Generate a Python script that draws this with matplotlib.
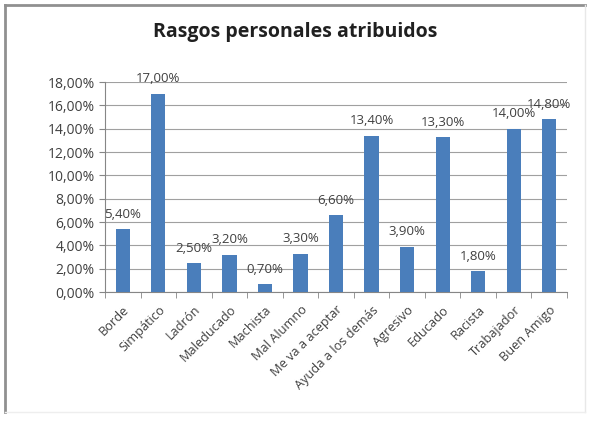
import matplotlib
matplotlib.use("Agg")
from matplotlib import pyplot as plt
from matplotlib.lines import Line2D
import numpy as np

categorias = ["Borde", "Simpático", "Ladrón", "Maleducado", "Machista", "Mal Alumno",
              "Me va a aceptar", "Ayuda a los demás", "Agresivo", "Educado", "Racista",
              "Trabajador", "Buen Amigo"]
porcentajes = [5.4, 17.0, 2.5, 3.2, 0.7, 3.3, 6.6, 13.4, 3.9, 13.3, 1.8, 14.0, 14.8]
ticks_y = [0, 2, 4, 6, 8, 10, 12, 14, 16, 18]

plt.rcParams['font.family'] = ['Open Sans', 'DejaVu Sans']

fig = plt.figure(figsize=(5.9, 4.21), dpi=100)
ax = fig.add_axes([0.178, 0.306, 0.783, 0.499])

x = np.arange(len(categorias))
ax.bar(x, porcentajes, width=0.4, color="#4a7ebb", zorder=3)

# etiquetas de datos
for xi, v in zip(x, porcentajes):
    ax.annotate(f"{v:.2f}%".replace(".", ","), (xi, v), xytext=(0, 6),
                textcoords="offset points", ha="center", va="bottom",
                fontsize=9.5, color="#404040")

ax.set_xlim(-0.5, len(categorias) - 0.5)
ax.set_ylim(0, 18)
ax.set_yticks(ticks_y)
ax.set_yticklabels([f"{t:.2f}%".replace(".", ",") for t in ticks_y], fontsize=10, color="#404040")
ax.yaxis.grid(True, color="#a0a0a0", linewidth=0.8, zorder=0)

ax.set_xticks(x)
ax.set_xticklabels(categorias, rotation=45, ha="right", rotation_mode="anchor",
                   fontsize=9.2, color="#404040")
ax.tick_params(axis="x", length=0, pad=8)
ax.set_xticks(np.arange(-0.5, len(categorias)), minor=True)
ax.tick_params(axis="x", which="minor", length=4, color="#868686", direction="out")
ax.tick_params(axis="y", length=4, color="#868686", direction="out")

for s in ["top", "right"]:
    ax.spines[s].set_visible(False)
ax.spines["left"].set_color("#868686")
ax.spines["bottom"].set_color("#868686")

fig.text(0.5, 0.924, "Rasgos personales atribuidos", ha="center", va="center",
         fontsize=14, fontweight="bold", color="#202020")

# marco del gráfico
W, H = 590, 421
fig.add_artist(Line2D([5 / W, 585 / W], [1 - 5 / H, 1 - 5 / H], color="#909090", lw=2.0))
fig.add_artist(Line2D([5 / W, 5 / W], [1 - 5 / H, 1 - 412 / H], color="#909090", lw=2.0))
fig.add_artist(Line2D([585 / W, 585 / W], [1 - 5 / H, 1 - 412 / H], color="#e8e8e8", lw=1.0))
fig.add_artist(Line2D([5 / W, 585 / W], [1 - 412 / H, 1 - 412 / H], color="#eeeeee", lw=1.0))

plt.savefig("out.png", dpi=100)
